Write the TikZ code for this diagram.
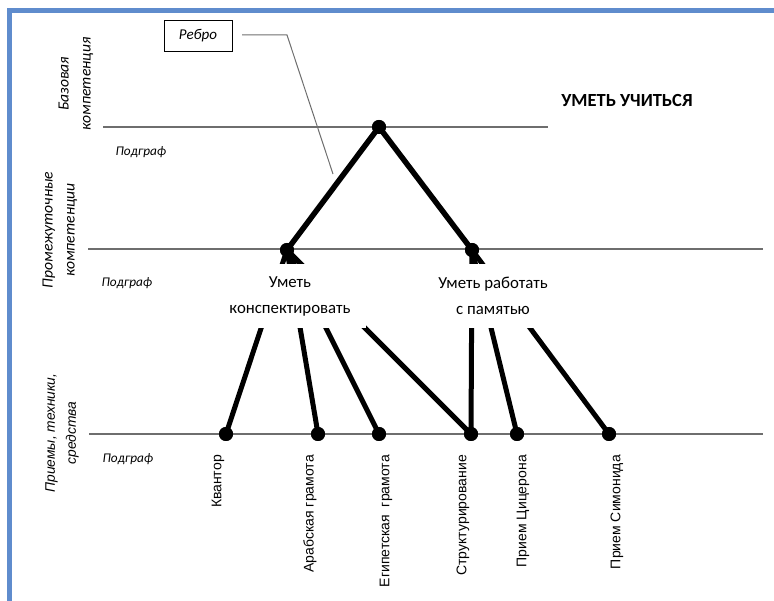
\documentclass[tikz,border=0pt]{standalone}
\usepackage{fontspec}
\setmainfont{Carlito}
\newfontfamily\arialf{Liberation Sans}
\definecolor{frameblue}{RGB}{95,140,205}
\definecolor{levelgray}{RGB}{110,110,110}
\begin{document}
\begin{tikzpicture}[x=1pt,y=-1pt,
  dot/.style={circle,fill=black,inner sep=0pt,minimum size=14pt},
  edge/.style={line width=5pt,black},
  level/.style={line width=1.4pt,levelgray},
  skill/.style={fill=white,inner sep=0pt,align=center,font=\fontsize{16.8}{26}\selectfont},
  sub/.style={font=\fontsize{13.3}{15}\selectfont\itshape},
  side/.style={rotate=90,align=center,font=\fontsize{15.6}{22}\selectfont\itshape},
  tech/.style={rotate=90,anchor=east,inner sep=0pt,font=\arialf\fontsize{14}{16}\selectfont},
  lead/.style={line width=1pt,levelgray}]
\useasboundingbox (0,0) rectangle (774,601);
% frame
\draw[frameblue,line width=4.5pt] (9.5,601) -- (9.5,10.5) -- (774,10.5);
% level lines
\draw[level] (103,127) -- (548,127);
\draw[level] (88,249) -- (763,249);
\draw[level] (89,434) -- (763,434);
% side labels
\node[side] (lb1) at (76,84) {Базовая\\компетенция};
\node[side] (lb2) at (60,230) {Промежуточные\\компетенции};
\node[side,font=\arialf\fontsize{13.8}{21}\selectfont\itshape] (lb3) at (62,433) {Приемы, техники,\\средства};
\node[sub] (sg1) at (141,152) {Подграф};
\node[sub] (sg2) at (127,283) {Подграф};
\node[sub] (sg3) at (128,459) {Подграф};
% title
\node[font=\fontsize{18.5}{21}\selectfont\bfseries] (title) at (627,101) {УМЕТЬ УЧИТЬСЯ};
% dots
\node[dot] (top) at (379,127) {};
\node[dot] (kon) at (287,250) {};
\node[dot] (mem) at (472,250) {};
\node[dot] (q1) at (226,434) {};
\node[dot] (q2) at (318,434) {};
\node[dot] (q3) at (379,434) {};
\node[dot] (q4) at (471,434) {};
\node[dot] (q5) at (517,434) {};
\node[dot] (q6) at (609,434) {};
% edges
\draw[edge,line width=5.5pt] (top.center) -- (kon.center);
\draw[edge,line width=5.5pt] (top.center) -- (mem.center);
\draw[edge] (kon.center) -- (q1.center);
\draw[edge] (kon.center) -- (q2.center);
\draw[edge] (kon.center) -- (q3.center);
\draw[edge] (kon.center) -- (q4.center);
\draw[edge] (mem.center) -- (q4.center);
\draw[edge] (mem.center) -- (q5.center);
\draw[edge] (mem.center) -- (q6.center);
% redraw dots on top
\foreach \n in {top,kon,mem,q1,q2,q3,q4,q5,q6} \fill (\n.center) circle (7pt);
% skill labels covering the edges
\node[skill,minimum width=152pt,minimum height=64pt] (lkon) at (290,296) {Уметь\\конспектировать};
\node[skill,minimum width=132pt,minimum height=64pt] (lmem) at (493,296) {Уметь работать\\с памятью};
% technique labels
\node[tech] (t1) at (218,455) {Квантор};
\node[tech] (t2) at (310,455) {Арабская грамота};
\node[tech] (t3) at (386,455) {Египетская\ \ грамота};
\node[tech] (t4) at (463,455) {Структурирование};
\node[tech] (t5) at (523,455) {Прием Цицерона};
\node[tech] (t6) at (617,455) {Прием Симонида};
% edge callout
\node[draw,line width=0.8pt,minimum width=68pt,minimum height=31pt,inner sep=0pt,font=\fontsize{15}{17}\selectfont\itshape] (rebro) at (198,35.5) {Ребро};
\coordinate (c1) at (242,35);
\coordinate (c2) at (287,35);
\coordinate (c3) at (333,174);
\draw[lead] (c1) -- (c2) -- (c3);
\end{tikzpicture}
\end{document}
